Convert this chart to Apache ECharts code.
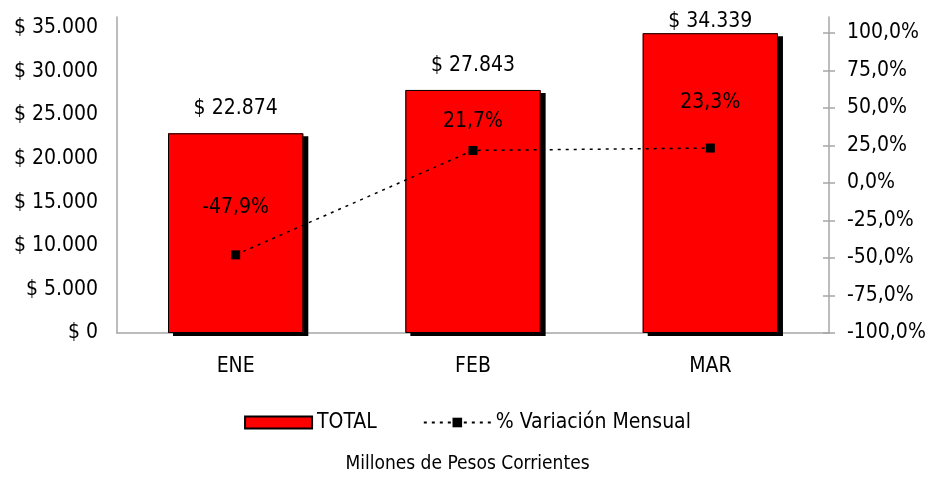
<!doctype html>
<html>
<head>
    <meta charset="utf-8">
    <title>Total mensual</title>
    <script src="https://cdn.jsdelivr.net/npm/echarts@6/dist/echarts.min.js"></script>
    <style>
        html, body { margin: 0; padding: 0; background: #fff; }
        #chart { width: 935px; height: 481px; }
    </style>
</head>
<body>
<div id="chart"></div>
<script>
    // datos del grafico
    var meses = ['ENE', 'FEB', 'MAR'];
    var total = [22874, 27843, 34339];
    var variacion = [-47.9, 21.7, 23.3];
    var ticksPesos = [0, 5000, 10000, 15000, 20000, 25000, 30000, 35000];
    var ticksPct = [-100, -75, -50, -25, 0, 25, 50, 75, 100];

    // separacion de etiquetas (como quedan en el original)
    var gapTotal = [14, 14, 1];
    var gapPct = [32, 14, 31];

    var fuente = '"DejaVu Sans Condensed", "DejaVu Sans", sans-serif';

    function miles(v) {
        return String(Math.round(v)).replace(/\B(?=(\d{3})+(?!\d))/g, '.');
    }
    function pct(v) {
        return v.toFixed(1).replace('.', ',') + '%';
    }

    var myChart = echarts.init(document.getElementById('chart'));
    var option = {
        backgroundColor: '#fff',
        animation: false,
        textStyle: { fontFamily: fuente, color: '#000' },
        title: {
            text: 'Millones de Pesos Corrientes',
            left: 'center',
            bottom: 2,
            textStyle: { fontFamily: fuente, fontSize: 19, fontWeight: 'normal', color: '#000' }
        },
        legend: {
            bottom: 43,
            left: 'center',
            itemWidth: 67,
            itemHeight: 12,
            itemGap: 46,
            textStyle: { fontFamily: fuente, fontSize: 21, color: '#000' },
            data: [
                { name: 'TOTAL', icon: 'rect' },
                { name: '% Variación Mensual' }
            ]
        },
        grid: { left: 117, right: 106, top: 17, bottom: 148 },
        xAxis: {
            type: 'category',
            data: meses,
            axisLine: { lineStyle: { color: '#a6a6a6', width: 1.5 } },
            axisTick: { show: false },
            axisLabel: { fontFamily: fuente, fontSize: 21, color: '#000', margin: 23 }
        },
        yAxis: [
            {
                type: 'value',
                min: 0,
                max: 36200,
                splitLine: { show: false },
                axisLine: { show: true, lineStyle: { color: '#a6a6a6', width: 1.5 } },
                axisTick: { show: false },
                axisLabel: {
                    customValues: ticksPesos,
                    fontFamily: fuente, fontSize: 21, color: '#000', margin: 19,
                    formatter: function (v) { return '$ ' + miles(v); }
                }
            },
            {
                type: 'value',
                position: 'right',
                min: -100,
                max: 110.67,
                splitLine: { show: false },
                axisLine: { show: true, lineStyle: { color: '#a6a6a6', width: 1.5 } },
                axisTick: { show: true, customValues: ticksPct, length: 6, lineStyle: { color: '#a6a6a6', width: 1.5 } },
                axisLabel: {
                    customValues: ticksPct,
                    fontFamily: fuente, fontSize: 21, color: '#000', margin: 18,
                    formatter: function (v) { return pct(v); }
                }
            },
            {
                // marcas hacia adentro del eje derecho
                type: 'value',
                position: 'right',
                min: -100,
                max: 110.67,
                splitLine: { show: false },
                axisLine: { show: false },
                axisTick: { show: true, inside: true, customValues: ticksPct, length: 6, lineStyle: { color: '#a6a6a6', width: 1.5 } },
                axisLabel: { show: false }
            }
        ],
        series: [
            {
                // sombra de las barras (debajo)
                name: 'sombra',
                type: 'bar',
                barCategoryGap: '43%',
                z: 1,
                silent: true,
                data: total,
                itemStyle: {
                    color: '#ff0000',
                    shadowColor: '#000',
                    shadowBlur: 0,
                    shadowOffsetX: 5,
                    shadowOffsetY: 3
                }
            },
            {
                name: 'TOTAL',
                type: 'bar',
                barGap: '-100%',
                barCategoryGap: '43%',
                z: 2,
                data: total.map(function (v, i) {
                    return { value: v, label: { distance: gapTotal[i] } };
                }),
                itemStyle: {
                    color: '#ff0000',
                    borderColor: '#000',
                    borderWidth: 1
                },
                label: {
                    show: true,
                    position: 'top',
                    fontFamily: fuente,
                    fontSize: 21,
                    color: '#000',
                    formatter: function (p) { return '$ ' + miles(p.value); }
                }
            },
            {
                name: '% Variación Mensual',
                type: 'line',
                yAxisIndex: 1,
                z: 5,
                symbol: 'rect',
                symbolSize: 9,
                data: variacion.map(function (v, i) {
                    return { value: v, label: { distance: gapPct[i] } };
                }),
                itemStyle: { color: '#000' },
                lineStyle: { color: '#000', width: 1.5, type: [3, 5] },
                label: {
                    show: true,
                    position: 'top',
                    fontFamily: fuente,
                    fontSize: 21,
                    color: '#000',
                    formatter: function (p) { return pct(p.value); }
                }
            }
        ]
    };
    myChart.setOption(option);
</script>
</body>
</html>
